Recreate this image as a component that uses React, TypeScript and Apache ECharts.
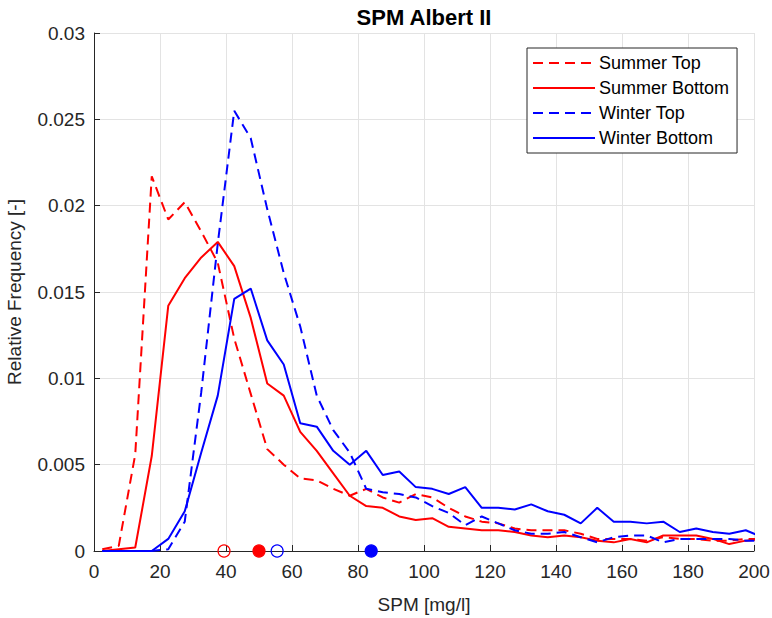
import React, { useEffect, useRef } from "react";
import * as echarts from "echarts";

const xBins = [
  2.5, 7.5, 12.5, 17.5, 22.5, 27.5, 32.5, 37.5, 42.5, 47.5,
  52.5, 57.5, 62.5, 67.5, 72.5, 77.5, 82.5, 87.5, 92.5, 97.5,
  102.5, 107.5, 112.5, 117.5, 122.5, 127.5, 132.5, 137.5, 142.5, 147.5,
  152.5, 157.5, 162.5, 167.5, 172.5, 177.5, 182.5, 187.5, 192.5, 197.5, 202.5,
];

const summerTop = [
  0.0001, 0.0003, 0.0056, 0.0217, 0.0192, 0.0202, 0.0185, 0.0167, 0.0123, 0.0091,
  0.0059, 0.005, 0.0042, 0.0041, 0.0036, 0.0032, 0.0036, 0.0031, 0.0028, 0.0033,
  0.0031, 0.0025, 0.002, 0.0017, 0.0016, 0.0013, 0.0012, 0.0012, 0.0012, 0.001,
  0.0007, 0.0007, 0.0007, 0.0006, 0.0008, 0.0007, 0.0007, 0.0006, 0.0006, 0.0007, 0.0007,
];

const summerBottom = [
  0.0, 0.0001, 0.0002, 0.0055, 0.0142, 0.0158, 0.017, 0.0179, 0.0165, 0.0135,
  0.0097, 0.009, 0.0069, 0.0058, 0.0045, 0.0032, 0.0026, 0.0025, 0.002, 0.0018,
  0.0019, 0.0014, 0.0013, 0.0012, 0.0012, 0.0011, 0.0009, 0.0008, 0.0009, 0.0008,
  0.0006, 0.0005, 0.0007, 0.0005, 0.0009, 0.0009, 0.0009, 0.0007, 0.0004, 0.0006, 0.0007,
];

const winterTop = [
  0.0, 0.0, 0.0, 0.0, 0.0001, 0.0017, 0.0092, 0.0178, 0.0255, 0.0239,
  0.0198, 0.0161, 0.013, 0.009, 0.007, 0.0057, 0.0036, 0.0034, 0.0033, 0.0031,
  0.0026, 0.0022, 0.0015, 0.002, 0.0016, 0.0012, 0.001, 0.001, 0.0011, 0.0008,
  0.0005, 0.0008, 0.0009, 0.0009, 0.0005, 0.0007, 0.0007, 0.0007, 0.0007, 0.0006, 0.0006,
];

const winterBottom = [
  0.0, 0.0, 0.0, 0.0, 0.0007, 0.0023, 0.0057, 0.009, 0.0146, 0.0152,
  0.0122, 0.0108, 0.0074, 0.0072, 0.0058, 0.005, 0.0058, 0.0044, 0.0046, 0.0037,
  0.0036, 0.0033, 0.0037, 0.0025, 0.0025, 0.0024, 0.0027, 0.0023, 0.0021, 0.0016,
  0.0025, 0.0017, 0.0017, 0.0016, 0.0017, 0.0011, 0.0013, 0.0011, 0.001, 0.0012, 0.0008,
];

// Central values marked on the x axis (open = Top, filled = Bottom)
const markerNames = ["Summer Top", "Summer Bottom", "Winter Top", "Winter Bottom"];
const markerX = [39.4, 50.0, 55.5, 84.0];
const markerFilled = [false, true, false, true];
const seriesColors = ["#ff0000", "#ff0000", "#0000ff", "#0000ff"];
const seriesDashed = [true, false, true, false];
const seriesValues = [summerTop, summerBottom, winterTop, winterBottom];

const FONT = "'Liberation Sans', Arial, Helvetica, sans-serif";
const AXIS_COLOR = "#262626";

export default function App() {
  const ref = useRef<HTMLDivElement>(null);

  useEffect(() => {
    if (!ref.current) return;
    const chart = echarts.init(ref.current, null, { renderer: "svg" });

    const lineSeries = markerNames.map((name, i) => ({
      name,
      type: "line",
      data: xBins.map((x, j) => [x, seriesValues[i][j]]),
      symbol: "none",
      showSymbol: false,
      clip: true,
      z: 3,
      lineStyle: {
        color: seriesColors[i],
        width: 2,
        type: seriesDashed[i] ? [10, 6] : "solid",
      },
      itemStyle: { color: seriesColors[i] },
    }));

    const markerSeries = markerNames.map((name, i) => ({
      name: name + " marker",
      type: "scatter",
      data: [[markerX[i], 0]],
      symbol: "circle",
      symbolSize: 12,
      clip: false,
      z: 4,
      itemStyle: {
        color: markerFilled[i] ? seriesColors[i] : "rgba(255,255,255,0)",
        borderColor: seriesColors[i],
        borderWidth: 1.2,
        opacity: 1,
      },
      emphasis: { disabled: true },
    }));

    chart.setOption({
      animation: false,
      backgroundColor: "#ffffff",
      textStyle: { fontFamily: FONT },
      title: {
        text: "SPM Albert II",
        left: 419,
        textAlign: "center",
        top: 1,
        textStyle: {
          fontFamily: FONT,
          fontSize: 22,
          fontWeight: "bold",
          color: "#000000",
        },
      },
      grid: {
        left: 94,
        right: 18,
        top: 33,
        bottom: 67,
        containLabel: false,
        outerBoundsMode: "none",
      },
      legend: {
        data: markerNames,
        orient: "vertical",
        left: 527,
        top: 48,
        padding: [6, 8, 6, 5],
        itemWidth: 62,
        itemHeight: 18,
        itemGap: 7,
        borderColor: AXIS_COLOR,
        borderWidth: 1,
        backgroundColor: "#ffffff",
        itemStyle: { opacity: 0, borderWidth: 0 },
        textStyle: {
          fontFamily: FONT,
          fontSize: 18,
          color: "#000000",
          padding: [0, 0, 0, -1],
        },
      },
      xAxis: {
        type: "value",
        min: 0,
        max: 200,
        interval: 20,
        name: "SPM [mg/l]",
        nameLocation: "middle",
        nameGap: 44,
        nameTextStyle: { fontFamily: FONT, fontSize: 19, color: AXIS_COLOR },
        axisLine: { show: true, onZero: false, lineStyle: { color: AXIS_COLOR, width: 1 } },
        axisTick: { show: true, inside: true, length: 6, lineStyle: { color: AXIS_COLOR } },
        axisLabel: { fontFamily: FONT, fontSize: 19, color: AXIS_COLOR, margin: 11 },
        splitLine: { show: true, lineStyle: { color: "#e3e3e3", width: 1 } },
      },
      yAxis: {
        type: "value",
        min: 0,
        max: 0.03,
        interval: 0.005,
        name: "Relative Frequency [-]",
        nameLocation: "middle",
        nameGap: 70,
        nameTextStyle: { fontFamily: FONT, fontSize: 19, color: AXIS_COLOR },
        axisLine: { show: true, onZero: false, lineStyle: { color: AXIS_COLOR, width: 1 } },
        axisTick: { show: true, inside: true, length: 6, lineStyle: { color: AXIS_COLOR } },
        axisLabel: { fontFamily: FONT, fontSize: 19, color: AXIS_COLOR, margin: 9 },
        splitLine: { show: true, lineStyle: { color: "#e3e3e3", width: 1 } },
      },
      series: [...lineSeries, ...markerSeries],
    });

    return () => {
      chart.dispose();
    };
  }, []);

  return (
    <div
      ref={ref}
      style={{ position: "fixed", left: 0, top: 0, width: 772, height: 618 }}
    />
  );
}
